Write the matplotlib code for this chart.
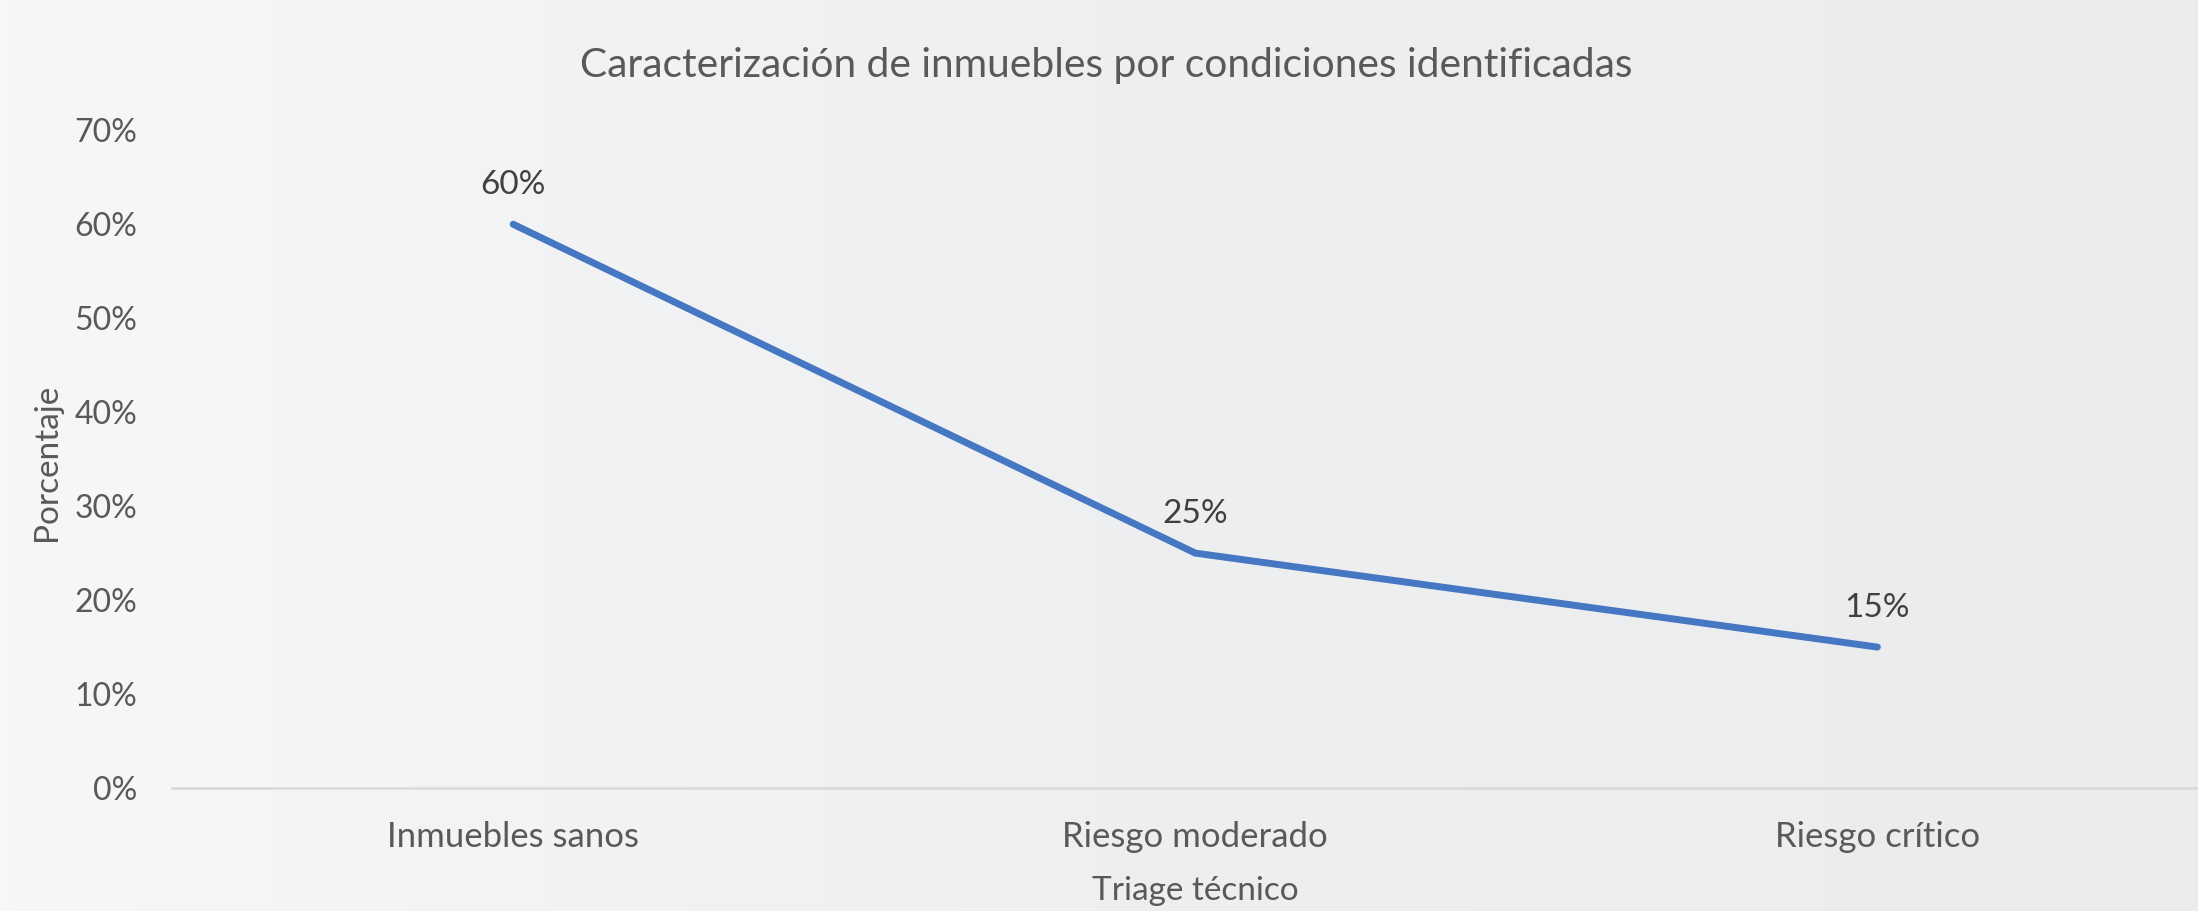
import matplotlib.pyplot as plt
import numpy as np

# data
categorias = ["Inmuebles sanos", "Riesgo moderado", "Riesgo crítico"]
porcentajes = [60, 25, 15]
y_ticks = [0, 10, 20, 30, 40, 50, 60, 70]

plt.rcParams['font.family'] = ['Lato', 'DejaVu Sans']

fig = plt.figure(figsize=(21.98, 9.11), dpi=100)

# soft background gradient
bg = fig.add_axes([0, 0, 1, 1], zorder=-10)
grad = np.linspace(0, 1, 256).reshape(1, -1)
bg.imshow(grad, aspect='auto', cmap=plt.matplotlib.colors.LinearSegmentedColormap.from_list(
    'bg', ['#f7f7f8', '#eeeff1', '#ebecee']), extent=[0, 1, 0, 1])
bg.axis('off')

# plot area runs a little past the right edge, as in the cropped original
ax = fig.add_axes([0.0783, 0.135, 0.931, 0.722])
ax.patch.set_alpha(0)

x = np.arange(len(categorias))
ax.plot(x, porcentajes, color='#4677C2', linewidth=5, solid_capstyle='round')

for xi, v in zip(x, porcentajes):
    ax.annotate(f"{v}%", (xi, v), xytext=(0, 28), textcoords='offset points',
                ha='center', va='center', fontsize=24, color='#404040')

ax.set_xlim(-0.5, 2.5)
ax.set_ylim(0, 70)
ax.set_yticks(y_ticks)
ax.set_yticklabels([f"{t}%" for t in y_ticks])
ax.set_xticks(x)
ax.set_xticklabels(categorias)
ax.tick_params(axis='both', length=0, colors='#595959')
ax.tick_params(axis='y', pad=25, labelsize=23)
ax.tick_params(axis='x', pad=24, labelsize=25)

for s in ['top', 'right', 'left']:
    ax.spines[s].set_visible(False)
ax.spines['bottom'].set_color('#d9d9d9')
ax.spines['bottom'].set_linewidth(1.8)

ax.set_xlabel("Triage técnico", fontsize=24, color='#595959', labelpad=16)
ax.set_ylabel("Porcentaje", fontsize=24, color='#595959')
ax.yaxis.set_label_coords(-0.054, 0.495)
fig.text(0.5035, 0.928, "Caracterización de inmuebles por condiciones identificadas",
         fontsize=29.3, color='#595959', ha='center', va='center')

fig.savefig("out.png", dpi=100)
